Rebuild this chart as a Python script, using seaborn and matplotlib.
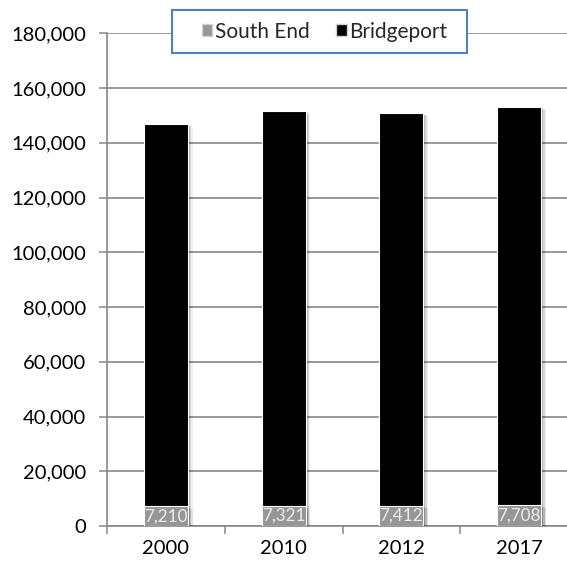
import matplotlib
matplotlib.use("Agg")
import matplotlib.pyplot as plt
import matplotlib.patheffects as pe
from matplotlib.patches import Patch, Rectangle
from matplotlib.ticker import FuncFormatter, MultipleLocator, FixedLocator
import seaborn as sns
import pandas as pd

# Population by year
years = ["2000", "2010", "2012", "2017"]
south_end = [7210, 7321, 7412, 7708]
bridgeport = [139529, 144229, 143400, 145400]

SOUTH_COLOR = "#969696"
CITY_COLOR = "#000000"
GRID_COLOR = "#878787"

sns.set_theme(style="white")
plt.rcParams["font.family"] = ["Lato", "DejaVu Sans"]

df = pd.DataFrame({"year": years, "South End": south_end, "Bridgeport": bridgeport})
df["stack_top"] = df["South End"] + df["Bridgeport"]

W, H = 567, 564
fig = plt.figure(figsize=(W / 100, H / 100), dpi=100)
ax = fig.add_axes([107 / W, 38 / H, 471 / W, 492.7 / H])

# Stacked columns: Bridgeport on top of South End
sns.barplot(data=df, x="year", y="stack_top", color=CITY_COLOR, saturation=1,
            width=0.375, edgecolor="white", linewidth=0.8, ax=ax, zorder=3)
sns.barplot(data=df, x="year", y="South End", color=SOUTH_COLOR, saturation=1,
            width=0.375, edgecolor="white", linewidth=0.8, ax=ax, zorder=4)

shadow = [
    pe.SimplePatchShadow(offset=(3.4, -2.0), shadow_rgbFace="#000000", alpha=0.06),
    pe.SimplePatchShadow(offset=(2.4, -1.4), shadow_rgbFace="#000000", alpha=0.10),
    pe.SimplePatchShadow(offset=(1.3, -0.8), shadow_rgbFace="#000000", alpha=0.14),
    pe.Normal(),
]
for p in ax.patches:
    p.set_path_effects(shadow)

ax.bar_label(ax.containers[1], labels=[f"{v:,}" for v in south_end],
             label_type="center", color="#ececec", fontsize=12.3, zorder=5)

ax.set_ylim(0, 180000)
ax.set_xlim(-0.5, 3.5)
ax.yaxis.set_major_locator(MultipleLocator(20000))
ax.yaxis.set_major_formatter(FuncFormatter(lambda v, _: f"{int(v):,}"))

ax.set_xticks([-0.5, 0.5, 1.5, 2.5, 3.5])
ax.set_xticklabels([])
ax.xaxis.set_minor_locator(FixedLocator(range(len(years))))
ax.set_xticklabels(years, minor=True)
ax.tick_params(axis="x", which="major", direction="out", length=5.5, width=1.1,
               color=GRID_COLOR, bottom=True)
ax.tick_params(axis="x", which="minor", length=0, pad=10, labelsize=14.5,
               labelcolor="black", bottom=True)
ax.tick_params(axis="y", direction="out", length=5.5, width=1.1, color=GRID_COLOR,
               pad=9.5, labelsize=14.5, labelcolor="black", left=True)

ax.set_xlabel("")
ax.set_ylabel("")
ax.yaxis.grid(True, color=GRID_COLOR, linewidth=1.2)
ax.set_axisbelow(True)
for side in ("top", "right"):
    ax.spines[side].set_visible(False)
for side in ("left", "bottom"):
    ax.spines[side].set_color(GRID_COLOR)
    ax.spines[side].set_linewidth(1.2)

# Legend box
box = Rectangle((172 / W, 1 - 53 / H), (467 - 172) / W, 43 / H, transform=fig.transFigure,
                facecolor="white", edgecolor="#4F81BD", linewidth=1.5, zorder=10)
fig.add_artist(box)

handles = [Patch(facecolor=SOUTH_COLOR, edgecolor="#d0d0d0", label="South End"),
           Patch(facecolor=CITY_COLOR, edgecolor="#d0d0d0", label="Bridgeport")]
leg = fig.legend(handles=handles, loc="center", bbox_to_anchor=(324.5 / W, 1 - 31.5 / H),
                 ncol=2, fontsize=15, frameon=False, handlelength=0.5, handleheight=0.5,
                 handletextpad=0.12, columnspacing=1.3, borderpad=0, borderaxespad=0)
leg.set_zorder(11)

fig.savefig("out.png", dpi=100)
